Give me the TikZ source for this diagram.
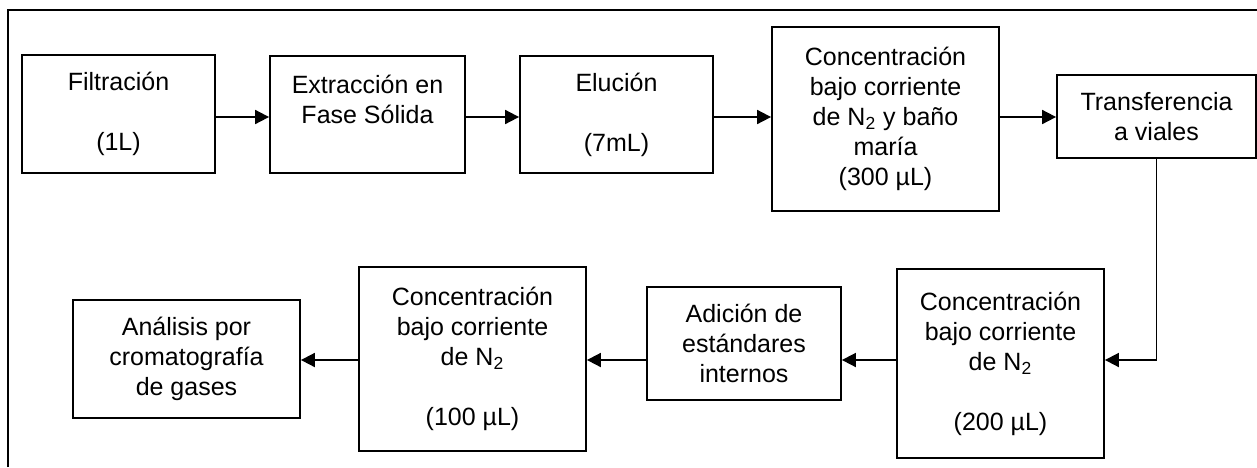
\documentclass[tikz,border=0pt]{standalone}
\usepackage{fontspec}
\setmainfont{Liberation Sans}
\usetikzlibrary{arrows.meta,calc}

\begin{document}
\begin{tikzpicture}[x=0.5pt,y=-0.5pt,line width=0.9pt,
    stepbox/.style={draw,align=center,inner sep=2pt,font=\fontsize{12.5}{15}\selectfont},
    flow/.style={-{Triangle[length=7pt,width=7pt]}}]
      \useasboundingbox (0,0) rectangle (1257,467);
      \draw (8,467) -- (8,10) -- (1257,10);
      \coordinate (row1) at (0,117);
      \coordinate (row2) at (0,360);

      % first row
      \node[stepbox,minimum width=96.5pt,minimum height=59pt] (filt) at (118.5,114) {Filtración\\~\\(1L)};
      \node[stepbox,minimum width=97.5pt,minimum height=58.5pt] (extr) at (367.5,114.5) {Extracción en\\Fase Sólida\\~};
      \node[stepbox,minimum width=96.5pt,minimum height=58.5pt] (elu) at (616.5,114.5) {Elución\\~\\(7mL)};
      \node[stepbox,minimum width=113.5pt,minimum height=92pt] (conc300) at (885.5,119) {Concentración\\bajo corriente\\de N\textsubscript{2} y baño\\maría\\(300 µL)};
      \node[stepbox,minimum width=99.5pt,minimum height=41.5pt] (transf) at (1156.5,116.5) {Transferencia\\a viales};

      % second row
      \node[stepbox,minimum width=103.5pt,minimum height=94.5pt] (conc200) at (1000.5,363.5) {Concentración\\bajo corriente\\de N\textsubscript{2}\\~\\(200 µL)};
      \node[stepbox,minimum width=97pt,minimum height=56.5pt] (adic) at (744,343.5) {Adición de\\estándares\\internos};
      \node[stepbox,minimum width=113.5pt,minimum height=92pt] (conc100) at (472.5,359) {Concentración\\bajo corriente\\de N\textsubscript{2}\\~\\(100 µL)};
      \node[stepbox,minimum width=113.5pt,minimum height=59pt] (anal) at (186.5,359) {Análisis por\\cromatografía\\de gases};

      \draw[flow] (filt.east |- row1) -- (extr.west |- row1);
      \draw[flow] (extr.east |- row1) -- (elu.west |- row1);
      \draw[flow] (elu.east |- row1) -- (conc300.west |- row1);
      \draw[flow] (conc300.east |- row1) -- (transf.west |- row1);
      \draw[flow] (transf.south) |- (conc200.east |- row2);
      \draw[flow] (conc200.west |- row2) -- (adic.east |- row2);
      \draw[flow] (adic.west |- row2) -- (conc100.east |- row2);
      \draw[flow] (conc100.west |- row2) -- (anal.east |- row2);
\end{tikzpicture}
\end{document}
